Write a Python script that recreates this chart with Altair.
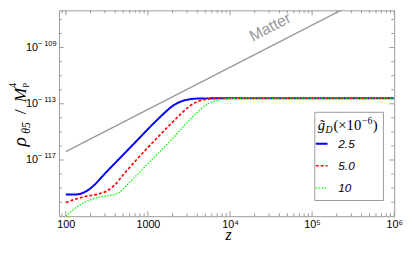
import altair as alt
import pandas as pd

# ---------------- data (log10 values) ----------------
series_names = ["2.5", "5.0", "10"]
series_colors = ["#0000ff", "#ff0000", "#00ff00"]

blue_lz = [2.0, 2.1, 2.15, 2.2, 2.25, 2.3, 2.5, 2.8, 3.1, 3.2, 3.3, 3.4, 3.5, 3.6, 3.8, 4.0, 6.0]
blue_ly = [-119.46, -119.46, -119.44, -119.36, -119.22, -119.02, -117.82, -116.02, -114.22,
           -113.66, -113.16, -112.84, -112.69, -112.63, -112.61, -112.6, -112.6]

red_lz = [2.0, 2.1, 2.2, 2.3, 2.4, 2.5, 2.6, 2.7, 3.0, 3.3, 3.4, 3.5, 3.6, 3.7, 3.8, 4.0, 6.0]
red_ly = [-120.02, -119.82, -119.65, -119.53, -119.42, -119.2, -118.75, -118.05, -116.11,
          -114.31, -113.73, -113.2, -112.85, -112.69, -112.63, -112.6, -112.6]

green_lz = [2.0, 2.05, 2.1, 2.2, 2.3, 2.4, 2.5, 2.6, 2.65, 2.7, 2.8, 3.0, 3.3, 3.5, 3.6, 3.7,
            3.8, 3.9, 4.0, 4.2, 6.0]
green_ly = [-121.0, -120.75, -120.5, -120.1, -119.85, -119.66, -119.55, -119.45, -119.32,
            -119.05, -118.46, -117.26, -115.46, -114.2, -113.62, -113.12, -112.84, -112.69,
            -112.63, -112.6, -112.6]

matter_lz = [2.0, 5.6]
matter_ly = [-116.4, -105.6]
matter_label_lz = 4.49
matter_label_ly = -107.55

x_major = [100, 1000, 1e4, 1e5, 1e6]
x_major_labels = ["100", "1000", "10⁴", "10⁵", "10⁶"]
x_minor = [90] + [k * 10 ** n for n in range(2, 6) for k in range(2, 10)]
y_major = [-117, -113, -109]
y_major_exps = ["\u2212 117", "\u2212 113", "\u2212 109"]
y_minor = [-120, -119, -118, -116, -115, -114, -112, -111, -110, -108, -107]

# ---------------- layout constants ----------------
W, H = 342, 210
FRAME = "#9a9a9a"
xscale = alt.Scale(type="log", domain=[82.6, 1e6], nice=False)
yscale = alt.Scale(domain=[-121, -106.35], nice=False)

rows = []
for name, lz, ly in [("2.5", blue_lz, blue_ly), ("5.0", red_lz, red_ly), ("10", green_lz, green_ly)]:
    for a, b in zip(lz, ly):
        rows.append({"z": 10 ** a, "ly": b, "g": name})
curves_df = pd.DataFrame(rows)
matter_df = pd.DataFrame({"z": [10 ** a for a in matter_lz], "ly": matter_ly})

x_label_expr = " : ".join(
    f"datum.value == {v:g} ? '{l}'" for v, l in zip(x_major, x_major_labels)) + " : ''"

xaxis = alt.Axis(title="", values=x_major, labelExpr=x_label_expr, labelFont="Liberation Sans",
                 labelFontSize=11, labelPadding=3, labelFlush=False)
yaxis = alt.Axis(title="", values=y_major, labelExpr="'10'", labelFont="Liberation Sans",
                 labelFontSize=11, labelPadding=22)
X = alt.X("z:Q", scale=xscale, axis=xaxis)
Y = alt.Y("ly:Q", scale=yscale, axis=yaxis)

legend = alt.Legend(
    title="", orient="none", legendX=261, legendY=129, padding=0,
    symbolType="stroke", symbolSize=144,
    labelFont="Liberation Sans", labelFontStyle="italic", labelFontSize=12,
    labelOffset=10, rowPadding=9.5, labelColor="black",
)

curves = alt.Chart(curves_df).mark_line(interpolate="monotone", clip=True).encode(
    x=X, y=Y,
    color=alt.Color("g:N", scale=alt.Scale(domain=series_names, range=series_colors),
                    sort=series_names, legend=legend),
    strokeDash=alt.StrokeDash("g:N", scale=alt.Scale(domain=series_names,
                              range=[[1, 0], [3, 2], [1.5, 1.5]]), sort=series_names, legend=legend),
    strokeWidth=alt.StrokeWidth("g:N", scale=alt.Scale(domain=series_names, range=[2, 1.3, 1.3]),
                                sort=series_names, legend=legend),
)

matter = alt.Chart(matter_df).mark_line(color="#999999", strokeWidth=1.4, clip=True).encode(x=X, y=Y)

matter_text = alt.Chart(pd.DataFrame({"z": [10 ** matter_label_lz], "ly": [matter_label_ly]})).mark_text(
    text="Matter", angle=333, color="#999999", fontSize=16, font="Liberation Sans",
    align="center", baseline="middle").encode(x=X, y=Y)

# exponents of the y tick labels (superscripts next to the axis' "10")
y_exps = alt.Chart(pd.DataFrame({"ly": y_major, "t": y_major_exps})).mark_text(
    fontSize=7.5, font="Liberation Sans", align="left", baseline="middle", dy=-4,
    color="black").encode(y=Y, x=alt.value(-21.5), text="t:N")


def xticks(values, length, top):
    y0 = 0 if top else H
    y1 = length if top else H - length
    return alt.Chart(pd.DataFrame({"z": values})).mark_rule(color=FRAME, strokeWidth=1).encode(
        x=X, y=alt.value(y0), y2=alt.value(y1))


def yticks(values, length, right):
    x0 = W if right else 0
    x1 = W - length if right else length
    return alt.Chart(pd.DataFrame({"ly": values})).mark_rule(color=FRAME, strokeWidth=1).encode(
        y=Y, x=alt.value(x0), x2=alt.value(x1))


one = pd.DataFrame({"a": [0]})


def label(txt, x, y, size, font="Liberation Serif", style="normal", angle=0,
          align="left", baseline="alphabetic", color="black"):
    return alt.Chart(one).mark_text(
        text=txt, fontSize=size, font=font, fontStyle=style, angle=angle,
        align=align, baseline=baseline, color=color).encode(x=alt.value(x), y=alt.value(y))


ticks = [xticks(x_major, 5, False), xticks(x_major, 5, True),
         xticks(x_minor, 3, False), xticks(x_minor, 3, True),
         yticks(y_major, 5, False), yticks(y_major, 5, True),
         yticks(y_minor, 3, False), yticks(y_minor, 3, True)]

legend_box = alt.Chart(one).mark_rect(fill="white", stroke=FRAME, strokeWidth=1).encode(
    x=alt.value(261), x2=alt.value(331), y=alt.value(104), y2=alt.value(194))

titles = [
    # y axis title: rho_{theta5} / M_P^4 (rotated)
    label("ρ", -34, 139, 20, style="italic", angle=270),
    label("θ5", -30, 126, 12, style="italic", angle=270),
    label("/", -34, 106, 18, angle=270),
    label("M", -34, 94, 18, style="italic", angle=270),
    label("4", -44, 79, 10, angle=270),
    label("P", -31, 79, 9, angle=270),
    # x axis title
    label("z", W / 2 + 2, 234, 16, style="italic", align="center"),
    # legend title
    label("g̃", 264, 122, 15, style="italic"),
    label("D", 272, 125, 10, style="italic"),
    label("(×10", 280, 122, 15),
    label("\u22126", 309, 116, 10),
    label(")", 320, 122, 15),
]

chart = alt.layer(matter, legend_box, curves, matter_text, y_exps, *ticks, *titles).properties(
    width=W, height=H, autosize=alt.AutoSizeParams(type="none"),
    padding={"left": 52, "top": 0, "right": 10, "bottom": 28},
).configure_view(stroke=FRAME, strokeWidth=1).configure_axis(
    grid=False, domain=False, ticks=False, labelColor="black")

chart.save("out.html", embed_options={"renderer": "svg", "actions": False})
